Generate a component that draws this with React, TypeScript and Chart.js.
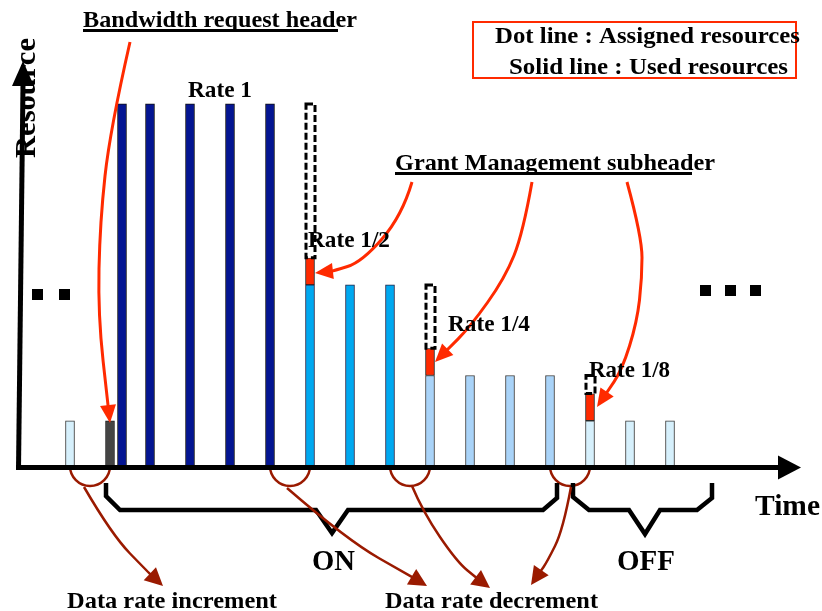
import React, { useEffect, useRef } from 'react';
import { Chart, registerables } from 'chart.js';

Chart.register(...registerables);

// ---- Data (time slot index, resource units; 1 unit = Rate 1/8 level) ----
const rate1Slots = [1.3, 2, 3, 4, 5];
const rate1Used = [8, 8, 8, 8, 8];
const rateHalfSlots = [6, 7, 8];
const rateHalfUsed = [4, 4, 4];
const rateQuarterSlots = [9, 10, 11, 12];
const rateQuarterUsed = [2, 2, 2, 2];
const rateEighthSlots = [0, 13, 14, 15];
const rateEighthUsed = [1, 1, 1, 1];
const bwRequestSlots = [1];
const bwRequestUsed = [1];
const gmSubheaderSlots = [6, 9, 13];
const gmSubheaderSize = [0.6, 0.6, 0.6];
const assignedSlots = [6, 9, 13];
const assignedLevel = [8, 4, 2];
const rateChangePairs = [[0, 1], [5, 6], [8, 9], [12, 13]];
const rateLabels = ['Rate 1', 'Rate 1/2', 'Rate 1/4', 'Rate 1/8'];

const allSlots = [...rate1Slots, ...rateHalfSlots, ...rateQuarterSlots, ...rateEighthSlots];
const allUsed = [...rate1Used, ...rateHalfUsed, ...rateQuarterUsed, ...rateEighthUsed];
const usedAt = (s: number) => allUsed[allSlots.indexOf(s)];

const RED = '#ff2a00';
const DARKRED = '#9a1a00';
const FONT = '"Liberation Serif", "Times New Roman", serif';

type T = { text: string; x: number; y: number; w: number; size: number };
const texts: T[] = [
  { text: 'Bandwidth request header', x: 83, y: 27, w: 274, size: 24 },
  { text: rateLabels[0], x: 188, y: 97, w: 64, size: 24 },
  { text: 'Dot line : Assigned resources', x: 495, y: 43, w: 305, size: 24 },
  { text: 'Solid line : Used resources', x: 509, y: 74, w: 279, size: 24 },
  { text: 'Grant Management subheader', x: 395, y: 170, w: 320, size: 24 },
  { text: rateLabels[1], x: 308, y: 247, w: 82, size: 24 },
  { text: rateLabels[2], x: 448, y: 331, w: 82, size: 24 },
  { text: rateLabels[3], x: 589, y: 377, w: 81, size: 24 },
  { text: 'Time', x: 755, y: 515, w: 65, size: 30 },
  { text: 'ON', x: 312, y: 570, w: 43, size: 30 },
  { text: 'OFF', x: 617, y: 570, w: 58, size: 30 },
  { text: 'Data rate increment', x: 67, y: 608, w: 210, size: 24 },
  { text: 'Data rate decrement', x: 385, y: 608, w: 213, size: 24 },
];

const redArrows: number[][][] = [
  [[130, 42], [110, 130], [100, 222], [98, 315], [110, 423]],
  [[412, 182], [402, 216], [362, 262], [333, 271], [315, 273]],
  [[532, 182], [523, 233], [505, 278], [470, 327], [435, 362]],
  [[627, 182], [642, 237], [642, 278], [637, 322], [622, 370], [597, 407]],
];
const darkArrows: number[][][] = [
  [[84, 487], [112, 535], [148, 572], [163, 586]],
  [[287, 488], [347, 540], [412, 577], [427, 586]],
  [[412, 486], [423, 512], [457, 562], [478, 579], [490, 588]],
  [[571, 487], [563, 530], [547, 562], [531, 585]],
];
const braces: number[][][] = [
  [[106, 483], [106, 496], [120, 510], [316, 510], [332, 533], [348, 510], [543, 510], [557, 498], [557, 483]],
  [[573, 483], [573, 497], [589, 510], [629, 510], [645, 534], [660, 510], [697, 510], [712, 498], [712, 483]],
];
const dotSquares = [[32, 289], [59, 289], [700, 285], [725, 285], [750, 285]];

function smoothPath(ctx: CanvasRenderingContext2D, pts: number[][], end: number[]) {
  ctx.beginPath();
  ctx.moveTo(pts[0][0], pts[0][1]);
  const p = [...pts.slice(0, -1), end];
  for (let i = 1; i < p.length - 1; i++) {
    const mx = (p[i][0] + p[i + 1][0]) / 2;
    const my = (p[i][1] + p[i + 1][1]) / 2;
    ctx.quadraticCurveTo(p[i][0], p[i][1], mx, my);
  }
  ctx.lineTo(end[0], end[1]);
  ctx.stroke();
}

function arrow(ctx: CanvasRenderingContext2D, pts: number[][], color: string, lw: number, hl: number, hw: number) {
  const n = pts.length;
  const [tx, ty] = pts[n - 1];
  const [px, py] = pts[n - 2];
  const len = Math.hypot(tx - px, ty - py);
  const ux = (tx - px) / len, uy = (ty - py) / len;
  const bx = tx - ux * hl, by = ty - uy * hl;
  ctx.save();
  ctx.strokeStyle = color;
  ctx.lineWidth = lw;
  ctx.lineJoin = 'round';
  smoothPath(ctx, pts, [bx + ux * 2, by + uy * 2]);
  ctx.fillStyle = color;
  ctx.beginPath();
  ctx.moveTo(tx, ty);
  ctx.lineTo(bx - uy * hw, by + ux * hw);
  ctx.lineTo(bx + uy * hw, by - ux * hw);
  ctx.closePath();
  ctx.fill();
  ctx.restore();
}

function drawText(ctx: CanvasRenderingContext2D, t: T) {
  ctx.save();
  ctx.font = `bold ${t.size}px ${FONT}`;
  ctx.fillStyle = '#000';
  ctx.textBaseline = 'alphabetic';
  const w = ctx.measureText(t.text).width;
  ctx.translate(t.x, t.y);
  ctx.scale(t.w / w, 1);
  ctx.fillText(t.text, 0, 0);
  ctx.restore();
}

const decor = {
  id: 'decor',
  afterDatasetsDraw(chart: any) {
    const ctx: CanvasRenderingContext2D = chart.ctx;
    const xs = chart.scales.x;
    const area = chart.chartArea;
    const baseY = area.bottom;

    // dashed outlines of assigned resources
    const meta = chart.getDatasetMeta(chart.data.datasets.length - 1);
    ctx.save();
    meta.data.forEach((el: any) => {
      const { x, y, base, width } = el.getProps(['x', 'y', 'base', 'width'], true);
      const l = x - width / 2 + 0.5, top = Math.min(y, base), h = Math.abs(base - y);
      ctx.fillStyle = '#fff';
      ctx.fillRect(l, top, width, h);
      ctx.strokeStyle = '#000';
      ctx.lineWidth = 3;
      ctx.setLineDash([7, 3]);
      ctx.strokeRect(l, top, width, h);
    });
    ctx.restore();

    // rate-change arcs under the axis
    ctx.save();
    ctx.strokeStyle = DARKRED;
    ctx.lineWidth = 2.5;
    rateChangePairs.forEach(([a, b]) => {
      const x1 = xs.getPixelForValue(a), x2 = xs.getPixelForValue(b);
      ctx.beginPath();
      ctx.ellipse((x1 + x2) / 2, baseY, (x2 - x1) / 2, 20, 0, 0, Math.PI);
      ctx.stroke();
    });
    ctx.restore();

    // axes
    ctx.save();
    ctx.strokeStyle = '#000';
    ctx.fillStyle = '#000';
    ctx.lineWidth = 5;
    ctx.beginPath();
    ctx.moveTo(area.left + 0.5, baseY + 3.5);
    ctx.lineTo(area.left + 5, area.top + 24);
    ctx.stroke();
    ctx.beginPath();
    ctx.moveTo(area.left + 5, area.top + 1);
    ctx.lineTo(area.left - 6, area.top + 26);
    ctx.lineTo(area.left + 16, area.top + 26);
    ctx.closePath();
    ctx.fill();
    ctx.beginPath();
    ctx.moveTo(area.left - 2, baseY + 1.5);
    ctx.lineTo(area.right - 20, baseY + 1.5);
    ctx.stroke();
    ctx.beginPath();
    ctx.moveTo(area.right + 1, baseY + 1.5);
    ctx.lineTo(area.right - 22, baseY - 10.5);
    ctx.lineTo(area.right - 22, baseY + 13.5);
    ctx.closePath();
    ctx.fill();
    ctx.restore();

    // braces
    ctx.save();
    ctx.strokeStyle = '#000';
    ctx.lineWidth = 4.5;
    ctx.lineJoin = 'miter';
    braces.forEach((pts) => {
      ctx.beginPath();
      ctx.moveTo(pts[0][0], pts[0][1]);
      pts.slice(1).forEach((p) => ctx.lineTo(p[0], p[1]));
      ctx.stroke();
    });
    ctx.restore();

    redArrows.forEach((p) => arrow(ctx, p, RED, 3, 18, 8));
    darkArrows.forEach((p) => arrow(ctx, p, DARKRED, 2.5, 18, 9));

    // dots
    ctx.save();
    ctx.fillStyle = '#000';
    dotSquares.forEach(([x, y]) => ctx.fillRect(x, y, 11, 11));
    ctx.restore();

    // legend box
    ctx.save();
    ctx.strokeStyle = RED;
    ctx.lineWidth = 2;
    ctx.strokeRect(473, 22, 323, 56);
    ctx.restore();

    texts.forEach((t) => drawText(ctx, t));
    // underlines
    ctx.save();
    ctx.fillStyle = '#000';
    ctx.fillRect(83, 29, 255, 3);
    ctx.fillRect(395, 172, 297, 3);
    ctx.restore();

    // vertical axis title
    ctx.save();
    ctx.font = `bold 30px ${FONT}`;
    ctx.fillStyle = '#000';
    const w = ctx.measureText('Resource').width;
    ctx.translate(35, 158);
    ctx.rotate(-Math.PI / 2);
    ctx.scale(120 / w, 1);
    ctx.fillText('Resource', 0, 0);
    ctx.restore();
  },
};

export default function App() {
  const ref = useRef<HTMLCanvasElement>(null);
  useEffect(() => {
    const mk = (slots: number[], vals: any[]) => slots.map((x, i) => ({ x, y: vals[i] }));
    const common = { barThickness: 9, grouped: false, borderWidth: 1, borderColor: '#3a3a3a', borderSkipped: false };
    const chart = new Chart(ref.current!, {
      type: 'bar',
      data: {
        datasets: [
          { ...common, label: 'Rate 1/8', data: mk(rateEighthSlots, rateEighthUsed), backgroundColor: '#d6f0fc' } as any,
          { ...common, label: 'Bandwidth request header', data: mk(bwRequestSlots, bwRequestUsed), backgroundColor: '#444444', borderColor: '#222' },
          { ...common, label: 'Rate 1', data: mk(rate1Slots, rate1Used), backgroundColor: '#041592', borderColor: '#111' },
          { ...common, label: 'Rate 1/2', data: mk(rateHalfSlots, rateHalfUsed), backgroundColor: '#00a8f0', borderColor: '#224' },
          { ...common, label: 'Rate 1/4', data: mk(rateQuarterSlots, rateQuarterUsed), backgroundColor: '#a9d3f8' },
          {
            ...common,
            label: 'Grant Management subheader',
            data: gmSubheaderSlots.map((x, i) => ({ x, y: [usedAt(x), usedAt(x) + gmSubheaderSize[i]] })),
            backgroundColor: RED,
            borderColor: '#222',
          },
          {
            ...common,
            label: 'Assigned resources',
            data: assignedSlots.map((x, i) => ({ x, y: [usedAt(x) + gmSubheaderSize[i], assignedLevel[i]] })),
            backgroundColor: 'rgba(0,0,0,0)',
            borderWidth: 0,
          },
        ] as any,
      },
      options: {
        responsive: false,
        animation: false,
        devicePixelRatio: 1,
        layout: { padding: { left: 18, right: 22, top: 60, bottom: 145 } },
        scales: {
          x: { type: 'linear', offset: false, min: -1.3, max: 18.25, display: false },
          y: { type: 'linear', min: 0, max: 8.97, display: false },
        },
        plugins: { legend: { display: false }, tooltip: { enabled: false } },
      } as any,
      plugins: [decor],
    });
    return () => chart.destroy();
  }, []);
  return (
    <div style={{ position: 'fixed', left: 0, top: 0, width: 822, height: 611, background: '#fff' }}>
      <canvas ref={ref} width={822} height={611} style={{ display: 'block' }} />
    </div>
  );
}
